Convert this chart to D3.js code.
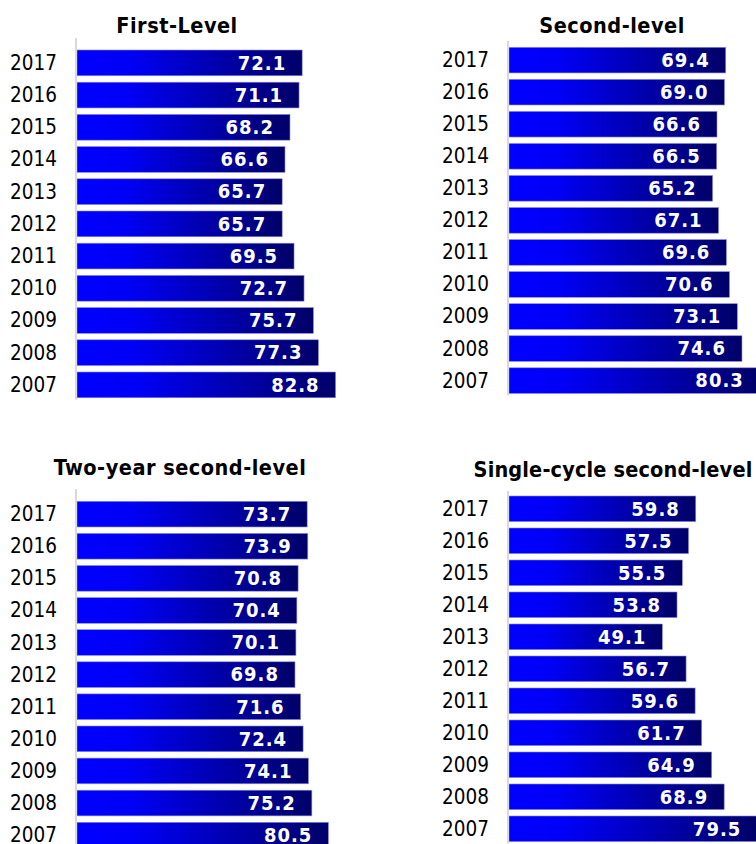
<!DOCTYPE html>
<html>
<head>
<meta charset="utf-8">
<script src="https://cdn.jsdelivr.net/npm/d3@7"></script>
<style>
  html, body { margin: 0; padding: 0; background: #ffffff; }
  svg { display: block; }
</style>
</head>
<body>
<svg id="chart" width="756" height="844"></svg>
<script>
// ---- data ----
const years = ["2017","2016","2015","2014","2013","2012","2011","2010","2009","2008","2007"];
const titles = ["First-Level", "Second-level", "Two-year second-level", "Single-cycle second-level"];
const firstLevel = [72.1, 71.1, 68.2, 66.6, 65.7, 65.7, 69.5, 72.7, 75.7, 77.3, 82.8];
const secondLevel = [69.4, 69.0, 66.6, 66.5, 65.2, 67.1, 69.6, 70.6, 73.1, 74.6, 80.3];
const twoYearSecond = [73.7, 73.9, 70.8, 70.4, 70.1, 69.8, 71.6, 72.4, 74.1, 75.2, 80.5];
const singleCycleSecond = [59.8, 57.5, 55.5, 53.8, 49.1, 56.7, 59.6, 61.7, 64.9, 68.9, 79.5];
const seriesList = [firstLevel, secondLevel, twoYearSecond, singleCycleSecond];

// ---- layout ----
const panels = [
  { axisX: 77,  top: 50,  step: 32.2, titleX: 177, titleY: 33,  lineTop: 38, titleSpacing: 0.5 },
  { axisX: 509, top: 47.3, step: 32.05, titleX: 612, titleY: 33, lineTop: 41, titleSpacing: 0.5 },
  { axisX: 77,  top: 501.3, step: 32.1, titleX: 180, titleY: 475, lineTop: 489, titleSpacing: 0.5 },
  { axisX: 509, top: 496, step: 32.0, titleX: 613, titleY: 477, lineTop: 491, titleSpacing: 0.15 }
];
const pxPerUnit = 3.123;

const svg = d3.select("#chart");
const defs = svg.append("defs");
const grad = defs.append("linearGradient")
  .attr("id", "barGrad").attr("x1", "0%").attr("x2", "100%").attr("y1", "0%").attr("y2", "0%");
grad.append("stop").attr("offset", "0%").attr("stop-color", "#0000ff");
grad.append("stop").attr("offset", "22%").attr("stop-color", "#0000f8");
grad.append("stop").attr("offset", "100%").attr("stop-color", "#000068");

const fontFam = "'DejaVu Sans Condensed', 'DejaVu Sans', sans-serif";

panels.forEach((p, i) => {
  const vals = seriesList[i];
  const data = years.map((y, k) => ({ year: y, value: vals[k] }));
  const po = 0.1, pi = 0.2;
  const r0 = p.top - po * p.step;
  const y = d3.scaleBand().domain(years).range([r0, r0 + years.length * p.step])
    .paddingInner(pi).paddingOuter(po);
  const x = d3.scaleLinear().domain([0, 100]).range([p.axisX, p.axisX + 100 * pxPerUnit]);

  const g = svg.append("g");

  // title
  g.append("text")
    .attr("x", p.titleX).attr("y", p.titleY)
    .attr("text-anchor", "middle")
    .attr("font-family", fontFam).attr("font-weight", "bold").attr("font-size", 21.5)
    .attr("letter-spacing", p.titleSpacing)
    .attr("fill", "#000")
    .text(titles[i]);

  // bars
  g.selectAll("rect.bar").data(data).join("rect")
    .attr("class", "bar")
    .attr("x", x(0)).attr("y", d => y(d.year))
    .attr("width", d => x(d.value) - x(0))
    .attr("height", y.bandwidth())
    .attr("fill", "url(#barGrad)")
    .attr("stroke", "#8a8ae6").attr("stroke-width", 0.6);

  // axis line (category axis, no ticks)
  const lastBottom = y(years[years.length - 1]) + y.bandwidth();
  g.append("line")
    .attr("x1", p.axisX - 1).attr("x2", p.axisX - 1)
    .attr("y1", p.lineTop).attr("y2", lastBottom + 2)
    .attr("stroke", "#d9d9d9").attr("stroke-width", 2);

  // year labels
  g.selectAll("text.year").data(data).join("text")
    .attr("class", "year")
    .attr("x", p.axisX - 20)
    .attr("y", d => y(d.year) + y.bandwidth() / 2)
    .attr("dy", "0.34em")
    .attr("text-anchor", "end")
    .attr("font-family", fontFam).attr("font-size", 20.5)
    .attr("fill", "#000")
    .text(d => d.year);

  // value labels
  g.selectAll("text.val").data(data).join("text")
    .attr("class", "val")
    .attr("x", d => x(d.value) - 16)
    .attr("y", d => y(d.year) + y.bandwidth() / 2)
    .attr("dy", "0.34em")
    .attr("text-anchor", "end")
    .attr("font-family", fontFam).attr("font-weight", "bold").attr("font-size", 20)
    .attr("letter-spacing", 1)
    .attr("fill", "#ffffff")
    .text(d => d3.format(".1f")(d.value));
});
</script>
</body>
</html>
